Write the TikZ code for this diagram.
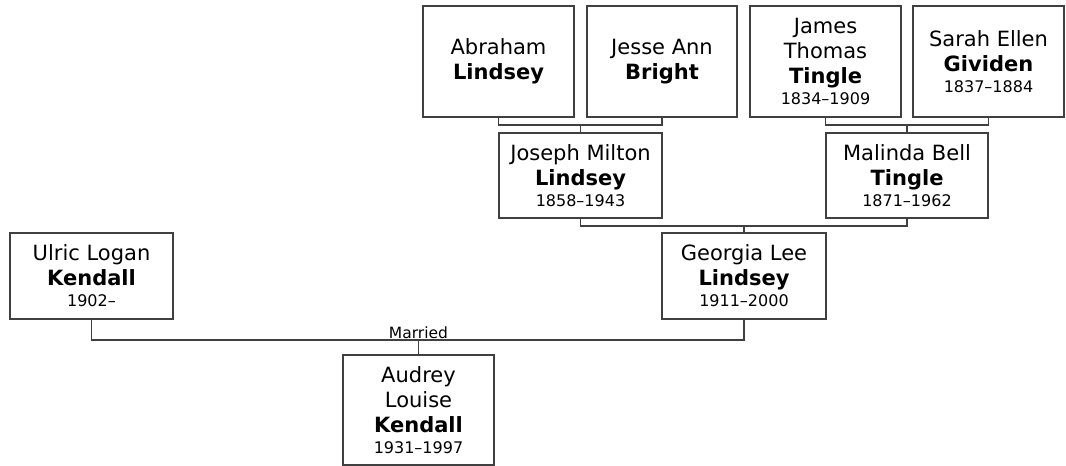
\documentclass[tikz,border=0pt]{standalone}
\usepackage{fontspec}
\setmainfont{DejaVu Sans}
\begin{document}
\begin{tikzpicture}[x=1pt,y=-1pt,
  person/.style={draw=black!75, line width=1.1pt, fill=white, align=center, inner sep=0pt,
    font=\fontsize{21}{25}\selectfont},
  link/.style={draw=black!75, line width=1.1pt},
  lbl/.style={font=\fontsize{15.5}{18}\selectfont, inner sep=1pt}]
\newcommand{\yrs}[1]{{\fontsize{16}{19.5}\selectfont #1}}
\useasboundingbox (0,0) rectangle (1066,466);
% top row
\node[person, minimum width=151pt, minimum height=111pt] (abraham) at (498.5,61.5) {Abraham\\\textbf{Lindsey}};
\node[person, minimum width=150pt, minimum height=111pt] (jesse) at (662,61.5) {Jesse Ann\\\textbf{Bright}};
\node[person, minimum width=151pt, minimum height=111pt] (james) at (825.5,61.5) {James\\Thomas\\\textbf{Tingle}\\[-4pt]\yrs{1834–1909}};
\node[person, minimum width=151pt, minimum height=111pt] (sarah) at (988.5,61.5) {Sarah Ellen\\\textbf{Gividen}\\[-4pt]\yrs{1837–1884}};
% middle row
\node[person, minimum width=163pt, minimum height=85pt] (joseph) at (580.5,175.5) {Joseph Milton\\\textbf{Lindsey}\\[-4pt]\yrs{1858–1943}};
\node[person, minimum width=162pt, minimum height=85pt] (malinda) at (907,175.5) {Malinda Bell\\\textbf{Tingle}\\[-4pt]\yrs{1871–1962}};
% third row
\node[person, minimum width=164pt, minimum height=86pt] (georgia) at (744,276) {Georgia Lee\\\textbf{Lindsey}\\[-4pt]\yrs{1911–2000}};
\node[person, minimum width=163pt, minimum height=86pt] (ulric) at (91.5,276) {Ulric Logan\\\textbf{Kendall}\\[-4pt]\yrs{1902–}};
% bottom
\node[person, minimum width=151pt, minimum height=110pt] (audrey) at (418.5,410) {Audrey\\Louise\\\textbf{Kendall}\\[-4pt]\yrs{1931–1997}};
% junctions
\coordinate (j1) at (580.5,125);
\coordinate (j2) at (907,125);
\coordinate (j3) at (744,226);
\coordinate (j4) at (418.5,340);
\draw[link] (abraham.south) |- (j1) -| (jesse.south);
\draw[link] (j1) -- (joseph.north);
\draw[link] (james.south) |- (j2) -| (sarah.south);
\draw[link] (j2) -- (malinda.north);
\draw[link] (joseph.south) |- (j3) -| (malinda.south);
\draw[link] (j3) -- (georgia.north);
\draw[link] (ulric.south) |- (j4) -| (georgia.south);
\draw[link] (j4) -- (audrey.north);
\node[lbl, anchor=south] (married) at (j4) {Married};
\end{tikzpicture}
\end{document}
